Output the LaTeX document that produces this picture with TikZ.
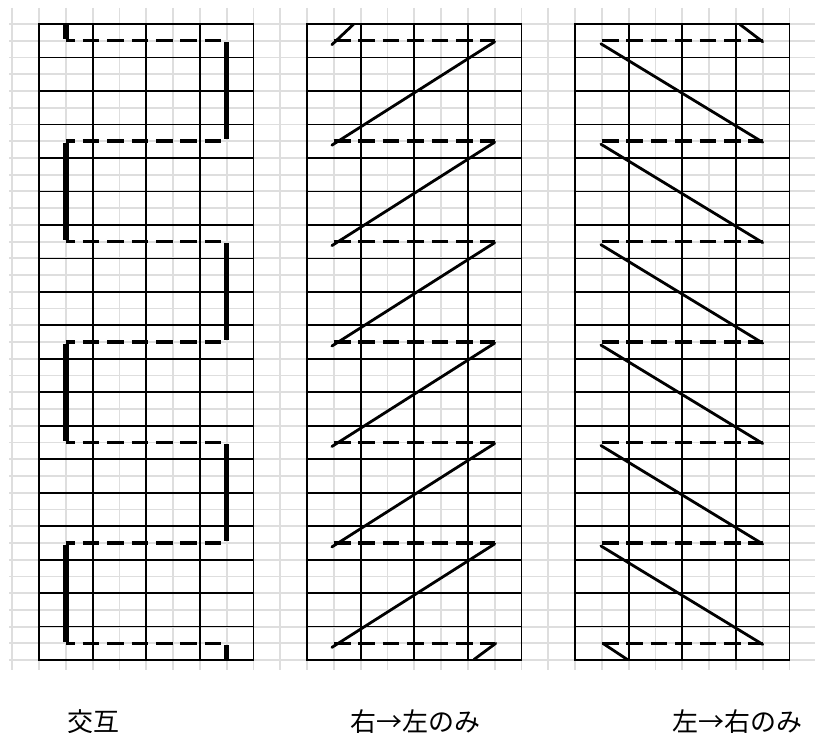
\documentclass[tikz,border=0pt]{standalone}
\usepackage{fontspec}
\newfontfamily\cjk{Noto Sans CJK JP}
\definecolor{lightgrid}{RGB}{222,222,222}
\begin{document}
\begin{tikzpicture}[x=1pt,y=-1pt,
  bggrid/.style={draw=lightgrid,line width=1.8pt},
  panelgrid/.style={draw=black,line width=1.7pt},
  thickseg/.style={draw=black,line width=5.5pt},
  dashseg/.style={draw=black,line width=3.5pt,dash pattern=on 16.7pt off 7.7pt},
  diagseg/.style={draw=black,line width=2.8pt,line cap=round},
  caption/.style={font=\cjk\fontsize{26}{30}\selectfont,anchor=base,inner sep=0pt}]
\useasboundingbox (0,0) rectangle (815,733);
\fill[white] (0,0) rectangle (815,733);
% background grid
\foreach \k in {0,...,29} \draw[bggrid] ({12.3+26.8*\k},8) -- ({12.3+26.8*\k},670);
\foreach \j in {0,...,38} \draw[bggrid] (9,{24+16.74*\j}) -- (815,{24+16.74*\j});
% panel grids
\foreach \p in {1,11,21}{
  \pgfmathsetmacro{\L}{12.3+26.8*\p}
  \foreach \i in {0,...,4} \draw[panelgrid] ({\L+53.6*\i},24) -- ({\L+53.6*\i},660.1);
  \foreach \j in {0,...,19} \draw[panelgrid] ({\L-0.85},{24+33.48*\j}) -- ({\L+214.4+0.85},{24+33.48*\j});
}
% y levels of the dashed lines
\foreach \m in {0,...,6}{
  \pgfmathsetmacro{\Y}{24+16.74*(1+6*\m)}
  \coordinate (ya\m) at (65.9,\Y);
  \coordinate (yb\m) at (226.7,\Y);
  \coordinate (yc\m) at (333.9,\Y);
  \coordinate (yd\m) at (494.7,\Y);
  \coordinate (ye\m) at (601.9,\Y);
  \coordinate (yf\m) at (762.7,\Y);
}
% ---------- panel 1: alternating ----------
\foreach \m in {0,...,6}{
  \draw[dashseg,dash phase=7.6pt] (ya\m) -- (yb\m);
}
\coordinate (p1top) at (65.9,24);
\coordinate (p1bot) at (226.7,660.1);
\draw[thickseg] (p1top) -- ([yshift=1.75pt]ya0);
\draw[thickseg] ([yshift=-1.75pt]yb0) -- ([yshift=1.75pt]yb1);
\draw[thickseg] ([yshift=-1.75pt]ya1) -- ([yshift=1.75pt]ya2);
\draw[thickseg] ([yshift=-1.75pt]yb2) -- ([yshift=1.75pt]yb3);
\draw[thickseg] ([yshift=-1.75pt]ya3) -- ([yshift=1.75pt]ya4);
\draw[thickseg] ([yshift=-1.75pt]yb4) -- ([yshift=1.75pt]yb5);
\draw[thickseg] ([yshift=-1.75pt]ya5) -- ([yshift=1.75pt]ya6);
\draw[thickseg] ([yshift=-1.75pt]yb6) -- (p1bot);
% ---------- panel 2: right to left only ----------
\foreach \m in {0,...,6}{
  \draw[dashseg] (yc\m) -- (yd\m);
}
\foreach \m [evaluate=\m as \n using int(\m+1)] in {0,...,5}{
  \draw[diagseg] ([yshift=-1pt]yd\m) -- ([xshift=-2pt,yshift=-4pt]yc\n);
}
\coordinate (p2top) at (353.3,24.5);
\coordinate (p2bot) at (474,659.5);
\draw[diagseg] ([xshift=-2pt,yshift=-4pt]yc0) -- (p2top);
\draw[diagseg] ([xshift=1pt]yd6) -- (p2bot);
% ---------- panel 3: left to right only ----------
\foreach \m in {0,...,6}{
  \draw[dashseg] (ye\m) -- (yf\m);
}
\foreach \m [evaluate=\m as \n using int(\m+1)] in {0,...,5}{
  \draw[diagseg] ([xshift=-1pt,yshift=-3pt]ye\m) -- ([yshift=-1pt]yf\n);
}
\coordinate (p3top) at (740,24.5);
\coordinate (p3bot) at (627.3,659.5);
\draw[diagseg] (p3top) -- ([yshift=-1pt]yf0);
\draw[diagseg] ([xshift=1pt]ye6) -- (p3bot);
% captions
\node[caption] (c1) at (93.5,731) {交互};
\node[caption] (c2) at (415,731) {右→左のみ};
\node[caption] (c3) at (737,731) {左→右のみ};
\end{tikzpicture}
\end{document}
